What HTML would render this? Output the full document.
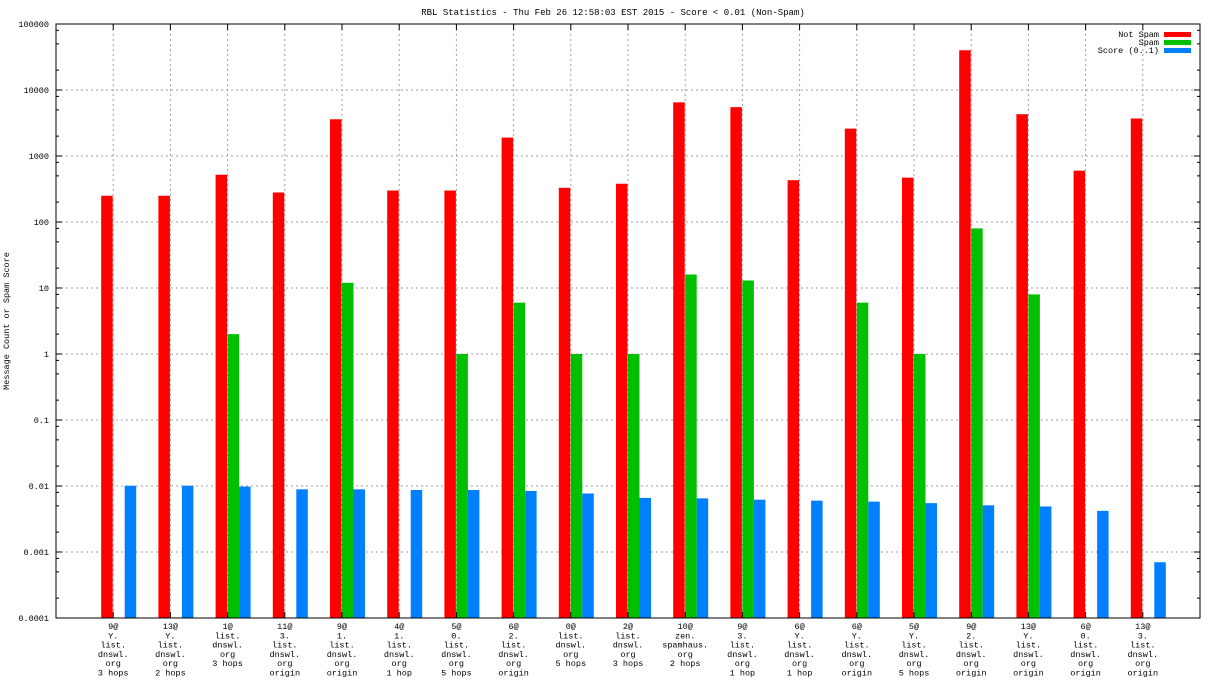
<!DOCTYPE html>
<html><head><meta charset="utf-8"><style>
html,body{margin:0;padding:0;background:#fff;}
svg{display:block;font-family:"Liberation Mono",monospace;}
</style></head><body>
<svg id="chart" width="1216" height="684" xmlns="http://www.w3.org/2000/svg">
<text x="613" y="15" font-size="9" text-anchor="middle">RBL Statistics - Thu Feb 26 12:58:03 EST 2015 - Score &lt; 0.01 (Non-Spam)</text>
<text transform="translate(9,321) rotate(-90)" font-size="8.5" text-anchor="middle">Message Count or Spam Score</text>
<g id="grid"></g><g id="bars"></g><g id="axes"></g><g id="labels"></g>
<g>
<text x="1159" y="37" font-size="8.5" text-anchor="end">Not Spam</text>
<rect x="1164" y="32" width="27" height="5" fill="#ff0000"/>
<text x="1159" y="45" font-size="8.5" text-anchor="end">Spam</text>
<rect x="1164" y="40" width="27" height="5" fill="#00c000"/>
<text x="1159" y="53" font-size="8.5" text-anchor="end">Score (0..1)</text>
<rect x="1164" y="48" width="27" height="5" fill="#0080ff"/>
</g>
</svg>
<script>
const categories=[
["9@","Y.","list.","dnswl.","org","3 hops"],["13@","Y.","list.","dnswl.","org","2 hops"],["1@","list.","dnswl.","org","3 hops"],["11@","3.","list.","dnswl.","org","origin"],["9@","1.","list.","dnswl.","org","origin"],["4@","1.","list.","dnswl.","org","1 hop"],["5@","0.","list.","dnswl.","org","5 hops"],["6@","2.","list.","dnswl.","org","origin"],["0@","list.","dnswl.","org","5 hops"],["2@","list.","dnswl.","org","3 hops"],["10@","zen.","spamhaus.","org","2 hops"],["9@","3.","list.","dnswl.","org","1 hop"],["6@","Y.","list.","dnswl.","org","1 hop"],["6@","Y.","list.","dnswl.","org","origin"],["5@","Y.","list.","dnswl.","org","5 hops"],["9@","2.","list.","dnswl.","org","origin"],["13@","Y.","list.","dnswl.","org","origin"],["6@","0.","list.","dnswl.","org","origin"],["13@","3.","list.","dnswl.","org","origin"]];
const notSpam=[250,250,520,280,3600,300,300,1900,330,380,6500,5500,430,2600,470,40000,4300,600,3700];
const spam=[0,0,2,0,12,0,1,6,1,1,16,13,0,6,1,80,8,0,0];
const score=[0.0101,0.0101,0.0098,0.0089,0.0089,0.0087,0.0087,0.0084,0.0077,0.0066,0.0065,0.0062,0.006,0.0058,0.0055,0.0051,0.0049,0.0042,0.0007];
const yTicks=["0.0001","0.001","0.01","0.1","1","10","100","1000","10000","100000"];
const NS="http://www.w3.org/2000/svg";
const L=56,R=1200,T=24,B=618;
function y(v){return B-(Math.log10(v)+4)*(B-T)/9;}
function x(i){return L+(i+1)*(R-L)/20;}
function mk(t,a,p){const e=document.createElementNS(NS,t);for(const k in a)e.setAttribute(k,a[k]);p.appendChild(e);return e;}
const G=document.getElementById('grid'),BR=document.getElementById('bars'),AX=document.getElementById('axes'),LB=document.getElementById('labels');
yTicks.forEach(function(t){
 const v=parseFloat(t),yy=y(v);
 if(v>0.0001&&v<100000){const g=mk('line',{x1:L,x2:R,y1:yy,y2:yy,stroke:'#a0a0a0','stroke-dasharray':'2,3'},G);
 
 }
 const tx=mk('text',{x:L-7,y:yy+3,'font-size':8.5,'text-anchor':'end'},AX);tx.textContent=t;
 
 
 mk('line',{x1:L,x2:L+6,y1:yy,y2:yy,stroke:'#000'},AX);mk('line',{x1:R,x2:R-6,y1:yy,y2:yy,stroke:'#000'},AX);
 if(v<100000)[2,5,8].forEach(function(m){const my=y(v*m);mk('line',{x1:L,x2:L+3,y1:my,y2:my,stroke:'#000'},AX);mk('line',{x1:R,x2:R-3,y1:my,y2:my,stroke:'#000'},AX);});
});
categories.forEach(function(c,i){
 const cx=x(i);
 const g=mk('line',{x1:cx,x2:cx,y1:T,y2:B,stroke:'#a0a0a0','stroke-dasharray':'2,3'},G);
 
 
 mk('line',{x1:cx,x2:cx,y1:T,y2:T+6,stroke:'#000'},AX);mk('line',{x1:cx,x2:cx,y1:B,y2:B-6,stroke:'#000'},AX);
 const series=[[notSpam,'#ff0000',-12,'bar-not-spam'],[spam,'#00c000',0,'bar-spam'],[score,'#0080ff',11.5,'bar-score']];
 series.forEach(function(s){const v=s[0][i];if(v>0.0001){const r=mk('rect',{x:cx+s[2],y:y(v),width:11.5,height:B-y(v),fill:s[1]},BR);
 
 }});
 const t=mk('text',{x:cx,y:B+11,'font-size':8.5,'text-anchor':'middle'},LB);
 
 
 c.forEach(function(line,j){const ts=mk('tspan',{x:cx,dy:j?9.3:0},t);ts.textContent=line;});
});
mk('rect',{x:L,y:T,width:R-L,height:B-T,fill:'none',stroke:'#000'},AX);
</script>
</body></html>
